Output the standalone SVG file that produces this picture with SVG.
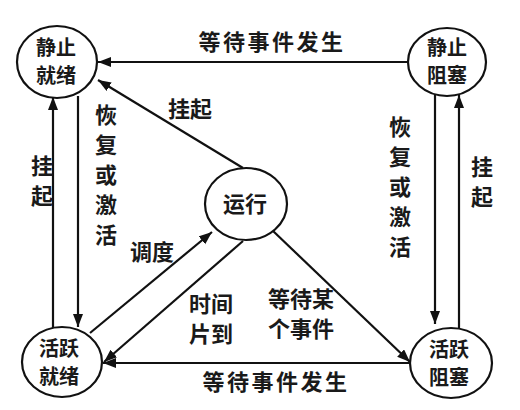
<svg xmlns="http://www.w3.org/2000/svg" width="520" height="410" viewBox="0 0 520 410">
<style>
.node ellipse{fill:#fff;stroke:#111;stroke-width:2.2}
.node text,.lbl{font-family:"Noto Sans CJK SC","Noto Sans",sans-serif;font-size:22px;font-weight:bold;fill:#1a1a1a;text-anchor:middle;dominant-baseline:central}
.node text.two{font-size:20px}
.edges line{stroke:#111;stroke-width:2.2;fill:none;marker-end:url(#ah)}
</style>
<defs>
<marker id="ah" markerUnits="userSpaceOnUse" markerWidth="14" markerHeight="12" refX="13" refY="5" orient="auto">
<path d="M0,0 L13,5 L0,10 z" fill="#111"/>
</marker>
</defs>
<rect width="520" height="410" fill="#fff"/>
<g id="edges" class="edges">
<line x1="408" y1="62" x2="98" y2="62"/>
<line x1="410" y1="363" x2="103" y2="363"/>
<line x1="53" y1="329" x2="53" y2="97"/>
<line x1="78" y1="96" x2="78" y2="327"/>
<line x1="435" y1="95" x2="435" y2="324"/>
<line x1="459" y1="329" x2="459" y2="95"/>
<line x1="243" y1="168" x2="98" y2="80"/>
<line x1="90" y1="333" x2="212" y2="232"/>
<line x1="243" y1="241" x2="104" y2="362"/>
<line x1="272" y1="230" x2="410" y2="362"/>
</g>
<g id="labels">
<text class="lbl" x="272" y="40" letter-spacing="2.5">等待事件发生</text>
<text class="lbl" x="276" y="380" letter-spacing="2.5">等待事件发生</text>
<text class="lbl" x="190" y="107">挂起</text>
<text class="lbl" x="152" y="250">调度</text>
<text class="lbl" x="211" y="302">时间</text>
<text class="lbl" x="211" y="332">片到</text>
<text class="lbl" x="301" y="297">等待某</text>
<text class="lbl" x="301" y="327">个事件</text>
<text class="lbl" x="42" y="164">挂</text>
<text class="lbl" x="42" y="194">起</text>
<text class="lbl" x="482" y="165">挂</text>
<text class="lbl" x="482" y="195">起</text>
<text class="lbl" x="106" y="113">恢</text>
<text class="lbl" x="106" y="143">复</text>
<text class="lbl" x="106" y="173">或</text>
<text class="lbl" x="106" y="203">激</text>
<text class="lbl" x="106" y="233">活</text>
<text class="lbl" x="400" y="125">恢</text>
<text class="lbl" x="400" y="155">复</text>
<text class="lbl" x="400" y="185">或</text>
<text class="lbl" x="400" y="215">激</text>
<text class="lbl" x="400" y="245">活</text>
</g>
<g id="n-static-ready" class="node">
<ellipse cx="57" cy="62" rx="40" ry="36"/>
<text class="two" x="56" y="46">静止</text>
<text class="two" x="56" y="74">就绪</text>
</g>
<g id="n-static-blocked" class="node">
<ellipse cx="447" cy="62" rx="39" ry="34"/>
<text class="two" x="447" y="46">静止</text>
<text class="two" x="447" y="74">阻塞</text>
</g>
<g id="n-running" class="node">
<ellipse cx="246" cy="204" rx="41" ry="36"/>
<text x="245" y="202">运行</text>
</g>
<g id="n-active-ready" class="node">
<ellipse cx="62" cy="362" rx="40" ry="35"/>
<text class="two" x="59" y="347">活跃</text>
<text class="two" x="59" y="375">就绪</text>
</g>
<g id="n-active-blocked" class="node">
<ellipse cx="451" cy="363" rx="41" ry="35"/>
<text class="two" x="449" y="348">活跃</text>
<text class="two" x="449" y="376">阻塞</text>
</g>
</svg>
